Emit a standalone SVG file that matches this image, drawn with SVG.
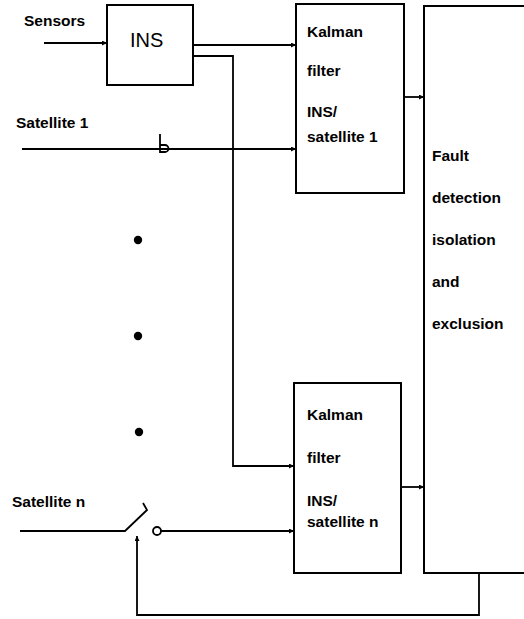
<svg xmlns="http://www.w3.org/2000/svg" width="524" height="619" viewBox="0 0 524 619">
<style>
.box{fill:#fff;stroke:#000;stroke-width:2}
.ln{fill:none;stroke:#000;stroke-width:1.8}
.t{font-family:"Liberation Sans",Arial,sans-serif;font-weight:bold;font-size:15.5px;fill:#000}
.ins{font-family:"Liberation Sans",Arial,sans-serif;font-size:20px;fill:#000}
</style>
<defs>
<marker id="ah" viewBox="0 0 6 6" refX="6" refY="3" markerWidth="5" markerHeight="5" markerUnits="userSpaceOnUse" orient="auto">
<path d="M0,0 L6,3 L0,6 Z" fill="#000"/>
</marker>
</defs>
<rect width="524" height="619" fill="#fff"/>
<g id="connectors">
<line class="ln" x1="44" y1="43" x2="107" y2="43" marker-end="url(#ah)"/>
<line class="ln" x1="193" y1="45" x2="296" y2="45" marker-end="url(#ah)"/>
<polyline class="ln" points="193,56 233,56 233,466 294,466" marker-end="url(#ah)"/>
<line class="ln" x1="22" y1="149" x2="296" y2="149" marker-end="url(#ah)"/>
<path class="ln" d="M160,134 V152 H165 A3.5,3.5 0 0 0 165,145 H160"/>
<line class="ln" x1="404" y1="97" x2="424" y2="97" marker-end="url(#ah)"/>
<line class="ln" x1="401" y1="487" x2="424" y2="487" marker-end="url(#ah)"/>
<polyline class="ln" points="20,531 125,531 147,510 143,503"/>
<circle class="ln" cx="157" cy="531" r="4"/>
<line class="ln" x1="161" y1="531" x2="294" y2="531" marker-end="url(#ah)"/>
<polyline class="ln" points="479,573 479,615 137,615 137,536" marker-end="url(#ah)"/>
</g>
<g id="sensors-label"><text class="t" x="24" y="26">Sensors</text></g>
<g id="satellite1-label"><text class="t" x="16" y="128">Satellite 1</text></g>
<g id="satellite-n-label"><text class="t" x="12" y="507">Satellite n</text></g>
<g id="dots">
<circle cx="138" cy="240" r="4.2" fill="#000"/>
<circle cx="138" cy="336" r="4.2" fill="#000"/>
<circle cx="139" cy="432" r="4.2" fill="#000"/>
</g>
<g id="ins">
<rect class="box" x="107" y="5" width="86" height="80"/>
<text class="ins" x="130" y="47">INS</text>
</g>
<g id="kalman1">
<rect class="box" x="296" y="4" width="108" height="189"/>
<text class="t" x="307" y="37">Kalman</text>
<text class="t" x="307" y="76">filter</text>
<text class="t" x="307" y="117">INS/</text>
<text class="t" x="307" y="142">satellite 1</text>
</g>
<g id="kalmann">
<rect class="box" x="294" y="383" width="107" height="190"/>
<text class="t" x="307" y="420">Kalman</text>
<text class="t" x="307" y="463">filter</text>
<text class="t" x="307" y="506">INS/</text>
<text class="t" x="307" y="527">satellite n</text>
</g>
<g id="fdie">
<rect class="box" x="424" y="6" width="110" height="567"/>
<text class="t" x="432" y="161">Fault</text>
<text class="t" x="432" y="203">detection</text>
<text class="t" x="432" y="245">isolation</text>
<text class="t" x="432" y="287">and</text>
<text class="t" x="432" y="329">exclusion</text>
</g>
</svg>
